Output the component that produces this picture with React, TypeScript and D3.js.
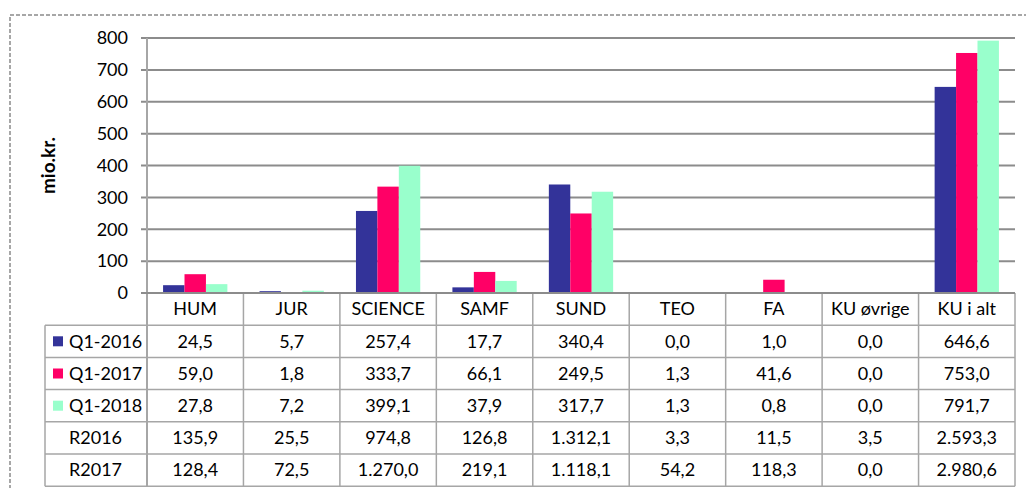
import React from "react";
import * as d3 from "d3";

// categories along the x axis
const categories = ["HUM", "JUR", "SCIENCE", "SAMF", "SUND", "TEO", "FA", "KU øvrige", "KU i alt"];

// bar series (drawn as bars and listed in the table)
const seriesNames = ["Q1-2016", "Q1-2017", "Q1-2018"];
const q12016 = [24.5, 5.7, 257.4, 17.7, 340.4, 0.0, 1.0, 0.0, 646.6];
const q12017 = [59.0, 1.8, 333.7, 66.1, 249.5, 1.3, 41.6, 0.0, 753.0];
const q12018 = [27.8, 7.2, 399.1, 37.9, 317.7, 1.3, 0.8, 0.0, 791.7];
const seriesColors = ["#333399", "#ff0066", "#99ffcc"];

// extra rows that only appear in the data table
const r2016 = [135.9, 25.5, 974.8, 126.8, 1312.1, 3.3, 11.5, 3.5, 2593.3];
const r2017 = [128.4, 72.5, 1270.0, 219.1, 1118.1, 54.2, 118.3, 0.0, 2980.6];

const yTicks = [0, 100, 200, 300, 400, 500, 600, 700, 800];

// Danish number format: 1.312,1
const fmt = (v: number) => {
  const s = d3.format(",.1f")(v);
  return s.replace(/,/g, "#").replace(".", ",").replace(/#/g, ".");
};

const App = () => {
  const width = 1026;
  const height = 488;
  const plotLeft = 147;
  const plotRight = 1015;
  const plotTop = 38;
  const plotBottom = 293;
  const rowH = 32.2;
  const legendLeft = 45;
  const font = "Lato, 'Open Sans', sans-serif";

  const x0 = d3.scaleBand().domain(categories).range([plotLeft, plotRight]);
  const x1 = d3
    .scaleBand()
    .domain(seriesNames)
    .range([0, x0.bandwidth()])
    .paddingInner(0)
    .paddingOuter(0.75);
  const y = d3.scaleLinear().domain([0, 800]).range([plotBottom, plotTop]);

  const series = [q12016, q12017, q12018];
  const tableRows = [
    { name: "Q1-2016", values: q12016, color: seriesColors[0] },
    { name: "Q1-2017", values: q12017, color: seriesColors[1] },
    { name: "Q1-2018", values: q12018, color: seriesColors[2] },
    { name: "R2016", values: r2016, color: null },
    { name: "R2017", values: r2017, color: null },
  ];
  const tableTop = plotBottom + rowH;
  const tableBottom = tableTop + rowH * tableRows.length;
  const gridColor = "#8c8c8c";
  const tableColor = "#a6a6a6";

  return (
    <svg
      width={width}
      height={height}
      style={{ position: "absolute", left: 0, top: 0, background: "#fff" }}
    >
      {/* dashed chart border */}
      <rect
        x={10}
        y={15}
        width={1030}
        height={500}
        fill="none"
        stroke="#8a8a8a"
        strokeWidth={1.5}
        strokeDasharray="4 2"
      />

      {/* gridlines and y ticks */}
      {yTicks.map((t) => (
        <g key={t}>
          <line
            x1={plotLeft - 6}
            x2={plotRight}
            y1={y(t)}
            y2={y(t)}
            stroke={gridColor}
            strokeWidth={2}
          />
          <text
            x={128}
            y={y(t)}
            dy="0.35em"
            textAnchor="end"
            fontFamily={font}
            fontSize={18}
            fill="#000"
          >
            {t}
          </text>
        </g>
      ))}

      {/* y axis title */}
      <text
        transform={`translate(55,${(plotTop + plotBottom) / 2}) rotate(-90)`}
        textAnchor="middle"
        fontFamily={font}
        fontSize={19}
        fontWeight="bold"
      >
        mio.kr.
      </text>

      {/* bars */}
      {series.map((vals, si) =>
        vals.map((v, ci) => (
          <rect
            key={`${si}-${ci}`}
            x={(x0(categories[ci]) as number) + (x1(seriesNames[si]) as number)}
            y={y(v)}
            width={x1.bandwidth()}
            height={plotBottom - y(v)}
            fill={seriesColors[si]}
          />
        ))
      )}

      {/* y axis line */}
      <line x1={plotLeft} x2={plotLeft} y1={plotTop} y2={tableBottom} stroke={tableColor} strokeWidth={2} />

      {/* header row: category names */}
      {categories.map((c) => (
        <g key={c}>
          <line
            x1={(x0(c) as number) + x0.bandwidth()}
            x2={(x0(c) as number) + x0.bandwidth()}
            y1={plotBottom}
            y2={tableBottom}
            stroke={tableColor}
            strokeWidth={1.5}
          />
          <text
            x={(x0(c) as number) + x0.bandwidth() / 2}
            y={plotBottom + rowH / 2}
            dy="0.35em"
            textAnchor="middle"
            fontFamily={font}
            fontSize={18}
          >
            {c}
          </text>
        </g>
      ))}

      {/* table rows */}
      {tableRows.map((r, ri) => {
        const top = tableTop + ri * rowH;
        return (
          <g key={r.name}>
            <line x1={legendLeft} x2={plotRight} y1={top} y2={top} stroke={tableColor} strokeWidth={1.5} />
            {r.color && (
              <rect x={53} y={top + rowH / 2 - 5} width={10} height={10} fill={r.color} />
            )}
            <text
              x={69}
              y={top + rowH / 2}
              dy="0.35em"
              fontFamily={font}
              fontSize={18}
            >
              {r.name}
            </text>
            {r.values.map((v, ci) => (
              <text
                key={ci}
                x={(x0(categories[ci]) as number) + x0.bandwidth() / 2}
                y={top + rowH / 2}
                dy="0.35em"
                textAnchor="middle"
                fontFamily={font}
                fontSize={18}
              >
                {fmt(v)}
              </text>
            ))}
          </g>
        );
      })}
      <line x1={legendLeft} x2={plotRight} y1={tableBottom} y2={tableBottom} stroke={tableColor} strokeWidth={1.5} />
      <line x1={legendLeft} x2={legendLeft} y1={tableTop} y2={tableBottom} stroke={tableColor} strokeWidth={1.5} />
      {/* x axis line on top of bars */}
      <line x1={plotLeft - 6} x2={plotRight} y1={plotBottom} y2={plotBottom} stroke={gridColor} strokeWidth={2} />
    </svg>
  );
};

export default App;
